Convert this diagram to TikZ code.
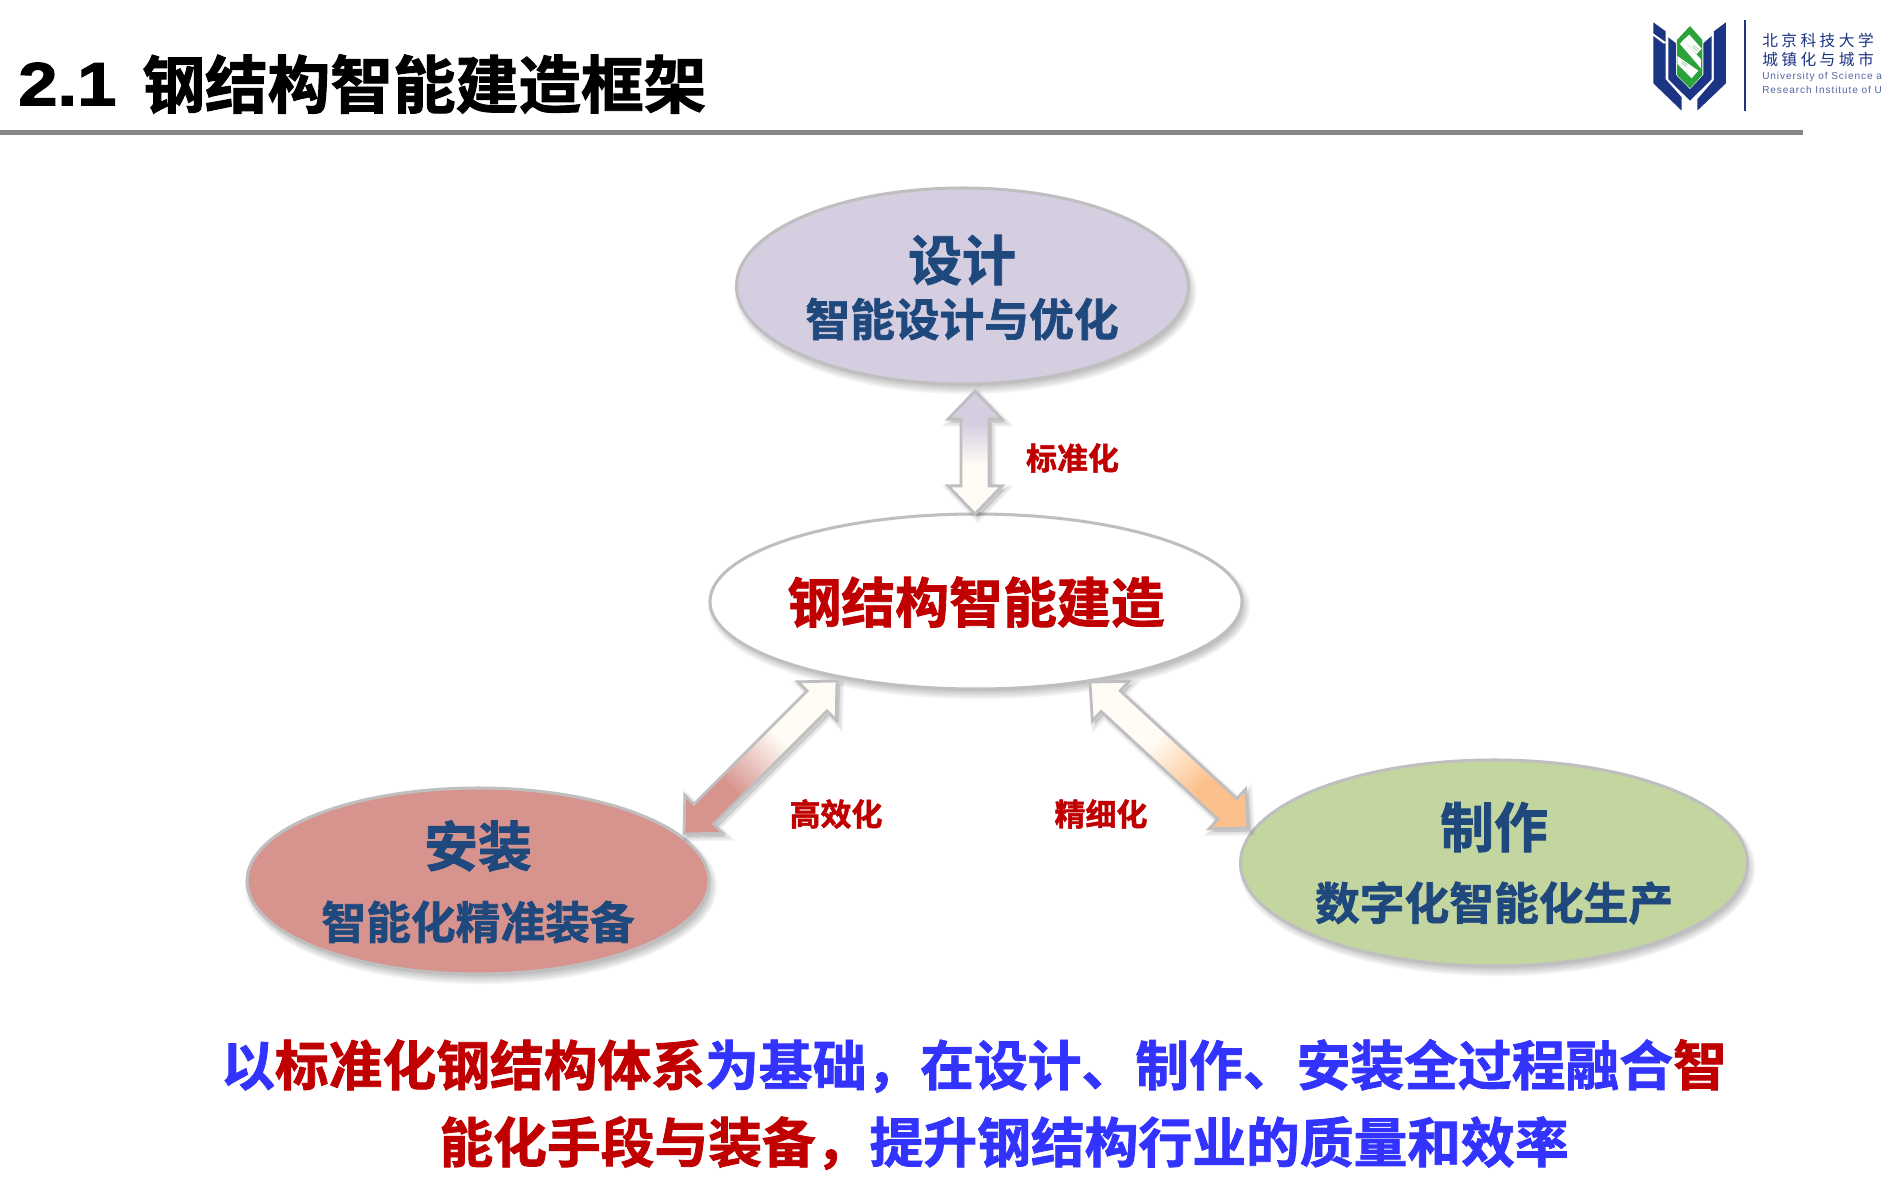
\documentclass[tikz,border=0pt]{standalone}
\usepackage{fontspec}
\usetikzlibrary{shapes.geometric,calc}
\newfontfamily\cjk{Noto Sans CJK SC Bold}[FakeBold=1.5]
\newfontfamily\cjklogo{Noto Sans CJK SC}[LetterSpace=22]
\newfontfamily\latinlogo{Liberation Sans}[LetterSpace=9]
\newfontfamily\latinhead{Liberation Sans Bold}[FakeStretch=1.16,FakeBold=2]
\definecolor{navytext}{HTML}{1F497D}
\definecolor{redtext}{HTML}{C00000}
\definecolor{bluetext}{HTML}{3333FF}
\definecolor{edgegrey}{HTML}{BFBFBF}
\definecolor{lilac}{HTML}{D5CDE0}
\definecolor{rosefill}{HTML}{D7948F}
\definecolor{sagefill}{HTML}{C4D6A0}
\definecolor{peach}{HTML}{FCC08C}
\definecolor{ivory}{HTML}{FFFCF5}
\definecolor{logoblue}{HTML}{1C3484}
\definecolor{logogreen}{HTML}{2BA23A}
\pgfdeclareverticalshading{lilacfade}{100bp}{color(0bp)=(ivory); color(45bp)=(ivory); color(62bp)=(lilac); color(100bp)=(lilac)}
\pgfdeclareverticalshading{rosefade}{100bp}{color(0bp)=(ivory); color(41bp)=(ivory); color(64bp)=(rosefill); color(100bp)=(rosefill)}
\pgfdeclareverticalshading{peachfade}{100bp}{color(0bp)=(ivory); color(43bp)=(ivory); color(65bp)=(peach); color(100bp)=(peach)}
% block arrow outline between two named coordinates
\newcommand{\blockoutline}[2]{(#1)
  -- ($(#1)!24pt!(#2)!23pt!90:(#2)$) -- ($(#1)!24pt!(#2)!12pt!90:(#2)$)
  -- ($(#2)!24pt!(#1)!12pt!-90:(#1)$) -- ($(#2)!24pt!(#1)!23pt!-90:(#1)$)
  -- (#2)
  -- ($(#2)!24pt!(#1)!23pt!90:(#1)$) -- ($(#2)!24pt!(#1)!12pt!90:(#1)$)
  -- ($(#1)!24pt!(#2)!12pt!-90:(#2)$) -- ($(#1)!24pt!(#2)!23pt!-90:(#2)$)
  -- cycle}
\newcommand{\blockarrow}[4]{%
  \foreach \wd in {7,5,3}{
    \draw[black,opacity=.04,line width=\wd pt,fill=black,transform canvas={shift={(2.5pt,-3pt)}}] \blockoutline{#1}{#2};
  }
  \shade[shading=#3,shading angle=#4,draw=edgegrey,line width=2.4pt,miter limit=8] \blockoutline{#1}{#2};
}
\newcommand{\softshadow}[4]{%
  \foreach \grow in {5,3,1,-1,-3}{
    \pgfmathsetmacro{\ra}{#3+\grow}\pgfmathsetmacro{\rb}{#4+\grow}
    \fill[black,opacity=.05] (#1+3,#2+5) ellipse [x radius=\ra,y radius=\rb];
  }
}
\tikzset{
  blob/.style={ellipse,draw=edgegrey,line width=2.6pt,inner sep=0pt},
  bigtext/.style={inner sep=0pt,text=navytext,font=\cjk\fontsize{46}{50}\selectfont},
  subtext/.style={inner sep=0pt,text=navytext,font=\cjk\fontsize{38.2}{42}\selectfont},
  linktext/.style={inner sep=0pt,text=redtext,font=\cjk\fontsize{26.4}{30}\selectfont},
  claimtext/.style={inner sep=0pt,font=\cjk\fontsize{45.9}{50}\selectfont},
  logopart/.style={fill=logoblue,draw=none},
  logocn/.style={inner sep=0pt,anchor=west,text=logoblue,font=\cjklogo\fontsize{13.4}{15}\selectfont},
  logoen/.style={inner sep=0pt,anchor=west,text=logoblue!75,font=\latinlogo\fontsize{8.6}{10}\selectfont}
}
\begin{document}
\begin{tikzpicture}[x=.03cm,y=-.03cm]
\useasboundingbox (0,0) rectangle (1883,1197);
\fill[white] (0,0) rectangle (1883,1197);
% title
\node[inner sep=0pt,anchor=west] (headnum) at (18,84) {\latinhead\fontsize{52}{56}\selectfont 2.1};
\node[inner sep=0pt,anchor=west] (headtext) at (142,84) {\cjk\fontsize{53.5}{58}\selectfont 钢结构智能建造框架};
\fill[gray!95] (0,130) rectangle (1803,135);
% logo
\begin{scope}[shift={(1600,0)},x=.01cm,y=-.01cm]
  \fill[logopart] (160,67) -- (197,94) -- (197,126) -- (160,100) -- cycle;
  \fill[logopart] (160,108) -- (189,130) -- (197,130) -- (197,238) -- (245,292) -- (245,332) -- (160,250) -- cycle;
  \fill[logopart] (378,67) -- (378,250) -- (292,332) -- (292,298) -- (342,240) -- (342,94) -- cycle;
  \fill[logopart] (205,112) -- (228,130) -- (228,225) -- (270,268) -- (310,225) -- (310,130) -- (335,108) -- (335,238) -- (270,302) -- (205,238) -- cycle;
  \fill[logogreen] (270,78) -- (307,120) -- (307,225) -- (270,265) -- (231,225) -- (231,120) -- cycle;
  \fill[white] (268,104) -- (305,146) -- (290,162) -- (250,120) -- cycle;
  \fill[white] (240,132) -- (250,120) -- (303,178) -- (303,205) -- cycle;
  \fill[white] (232,168) -- (295,212) -- (275,235) -- (232,192) -- cycle;
  \draw[logogreen!60,line width=.5pt] (280,136) -- (296,148) (277,141) -- (293,153) (247,183) -- (262,196) (244,188) -- (259,201);
  \fill[logoblue] (431,60) rectangle (439,333);
\end{scope}
\node[logocn] (logoa) at (1762,40) {北京科技大学};
\node[logocn] (logob) at (1762,59) {城镇化与城市};
\node[logoen] (logoc) at (1762,77) {University of Science a};
\node[logoen] (logod) at (1762,90) {Research Institute of U};
% ellipses
\softshadow{962.5}{286}{226}{98}
\softshadow{976}{601.5}{266}{87.5}
\softshadow{478}{881}{231}{93}
\softshadow{1494}{863}{253}{103}
\node[blob,fill=lilac,minimum width=13.56cm,minimum height=5.88cm] (design) at (962.5,286) {};
\node[blob,fill=white,minimum width=15.96cm,minimum height=5.25cm] (core) at (976,601.5) {};
\node[blob,fill=rosefill,minimum width=13.86cm,minimum height=5.58cm] (install) at (478,881) {};
\node[blob,fill=sagefill,minimum width=15.21cm,minimum height=6.18cm] (make) at (1494,863) {};
% ellipse texts
\node[bigtext] (designa) at (962,260) {设计};
\node[subtext] (designb) at (962,319) {智能设计与优化};
\node[inner sep=0pt,text=redtext,font=\cjk\fontsize{46}{50}\selectfont] (coret) at (976,602) {钢结构智能建造};
\node[bigtext] (installa) at (478,846) {安装};
\node[subtext] (installb) at (478,922) {智能化精准装备};
\node[bigtext] (makea) at (1494,827) {制作};
\node[subtext] (makeb) at (1494,903) {数字化智能化生产};
% arrows
\coordinate (upA) at (975,391);
\coordinate (upB) at (975,514);
\coordinate (leftA) at (684,834);
\coordinate (leftB) at (837,681);
\coordinate (rightA) at (1248,828);
\coordinate (rightB) at (1090,682);
\blockarrow{upA}{upB}{lilacfade}{0}
\blockarrow{leftA}{leftB}{rosefade}{135}
\blockarrow{rightA}{rightB}{peachfade}{225}
% arrow labels
\node[linktext] (stdlabel) at (1072.5,458) {标准化};
\node[linktext] (efflabel) at (836,814) {高效化};
\node[linktext] (finelabel) at (1101,814) {精细化};
% claim
\node[claimtext] (claima) at (974,1066) {\textcolor{bluetext}{以}\textcolor{redtext}{标准化钢结构体系}\textcolor{bluetext}{为基础，在设计、制作、安装全过程融合}\textcolor{redtext}{智}};
\node[claimtext] (claimb) at (1004,1143) {\textcolor{redtext}{能化手段与装备，}\textcolor{bluetext}{提升钢结构行业的质量和效率}};
\end{tikzpicture}
\end{document}
